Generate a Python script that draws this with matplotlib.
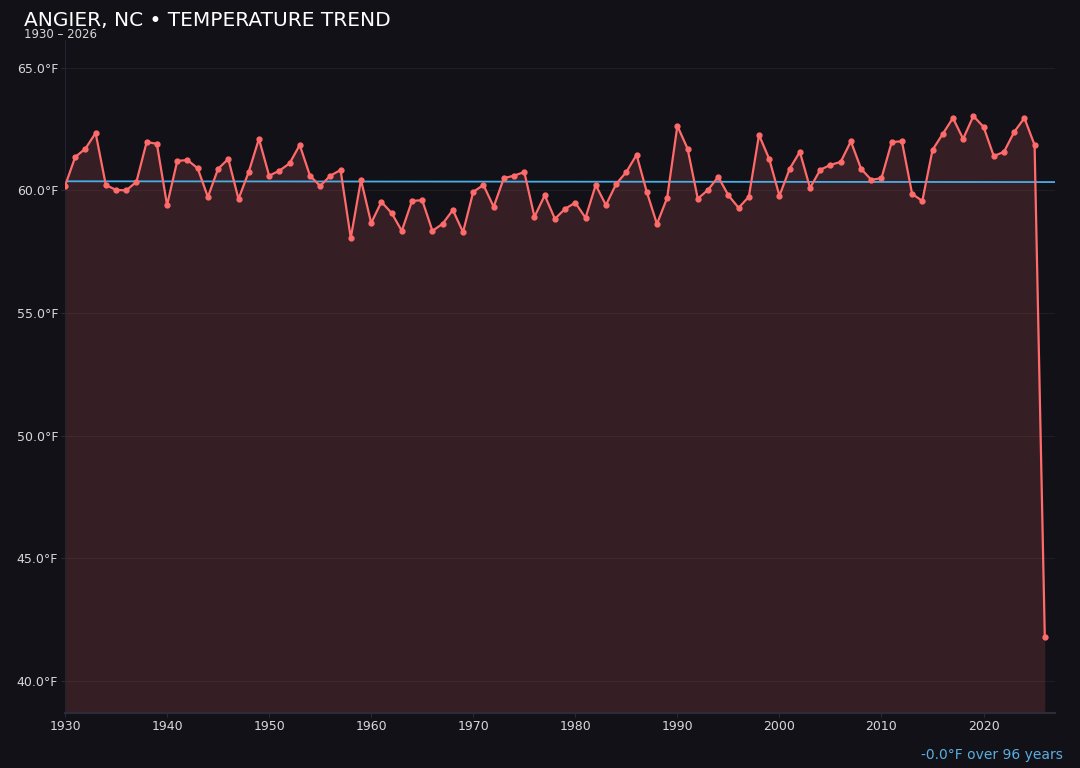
import numpy as np
import matplotlib
matplotlib.use("Agg")
import matplotlib.pyplot as plt

# annual mean temperature, Angier NC
years = np.arange(1930, 2027)
temps = [
    60.18, 61.36, 61.70, 62.34, 60.22, 60.02, 60.00, 60.35, 61.97, 61.90,  # 1930s
    59.40, 61.20, 61.24, 60.90, 59.73, 60.88, 61.28, 59.65, 60.75, 62.10,  # 1940s
    60.60, 60.80, 61.10, 61.85, 60.60, 60.18, 60.60, 60.83, 58.06, 60.43,  # 1950s
    58.67, 59.53, 59.08, 58.35, 59.57, 59.60, 58.35, 58.64, 59.20, 58.30,  # 1960s
    59.94, 60.22, 59.33, 60.50, 60.60, 60.75, 58.92, 59.80, 58.84, 59.25,  # 1970s
    59.50, 58.88, 60.22, 59.40, 60.26, 60.75, 61.45, 59.94, 58.63, 59.70,  # 1980s
    62.63, 61.70, 59.66, 60.02, 60.55, 59.80, 59.29, 59.74, 62.26, 61.28,  # 1990s
    59.78, 60.88, 61.57, 60.10, 60.84, 61.04, 61.16, 62.00, 60.88, 60.43,  # 2000s
    60.50, 61.97, 62.00, 59.86, 59.57, 61.65, 62.30, 62.95, 62.10, 63.03,  # 2010s
    62.59, 61.40, 61.57, 62.38, 62.95, 61.85, 41.80,                      # 2020s
]
temps = np.array(temps)
title = "ANGIER, NC \u2022 TEMPERATURE TREND"
subtitle = "1930 \u2013 2026"

BG = "#121118"
LINE = "#ff6b6b"
TREND = "#4aaee6"

fig = plt.figure(figsize=(10.8, 7.68), dpi=100, facecolor=BG)
ax = fig.add_axes([65 / 1080, 1 - 713 / 768, 990 / 1080, 673 / 768])
ax.set_facecolor(BG)

# linear trend
slope, icpt = np.polyfit(years, temps, 1)
trend = slope * years + icpt

lo, hi = temps.min(), temps.max()
pad = 0.146 * (hi - lo)
ax.fill_between(years, temps, lo - pad, color=LINE, alpha=0.15, linewidth=0)
ax.plot(years, temps, color=LINE, lw=1.6, marker="o", ms=3.5, zorder=3)
ax.plot([years[0], years[-1] + 1], [trend[0], slope * (years[-1] + 1) + icpt],
        color=TREND, lw=1.3, zorder=2)

ax.set_xlim(1930, 2027)
ax.set_ylim(lo - pad, hi + pad)
ax.set_xticks(np.arange(1930, 2030, 10))
ax.set_yticks(np.arange(40, 66, 5))
ax.yaxis.set_major_formatter(matplotlib.ticker.FuncFormatter(lambda v, p: f"{v:.1f}\u00b0F"))
ax.grid(axis="y", color="#201d25", lw=0.8)
ax.set_axisbelow(True)
ax.tick_params(colors="#d8d8d8", labelsize=9, length=3, pad=2, color="#2a2a35")
for s in ["top", "right"]:
    ax.spines[s].set_visible(False)
ax.spines["left"].set_color("#24222c")
ax.spines["bottom"].set_color("#2c2c38")
ax.spines["bottom"].set_linewidth(1.5)

fig.text(24 / 1080, 1 - 21 / 768, title, color="white", fontsize=14.5, va="center", ha="left")
fig.text(24 / 1080, 1 - 35 / 768, subtitle, color="#d8d8d8", fontsize=8.5, va="center", ha="left")
change = slope * (years[-1] - years[0])
fig.text(1063 / 1080, 1 - 755 / 768, f"{change:.1f}\u00b0F over {years[-1] - years[0]} years",
         color="#5aaee0", fontsize=10, va="center", ha="right")

fig.savefig("out.png", dpi=100, facecolor=BG)
